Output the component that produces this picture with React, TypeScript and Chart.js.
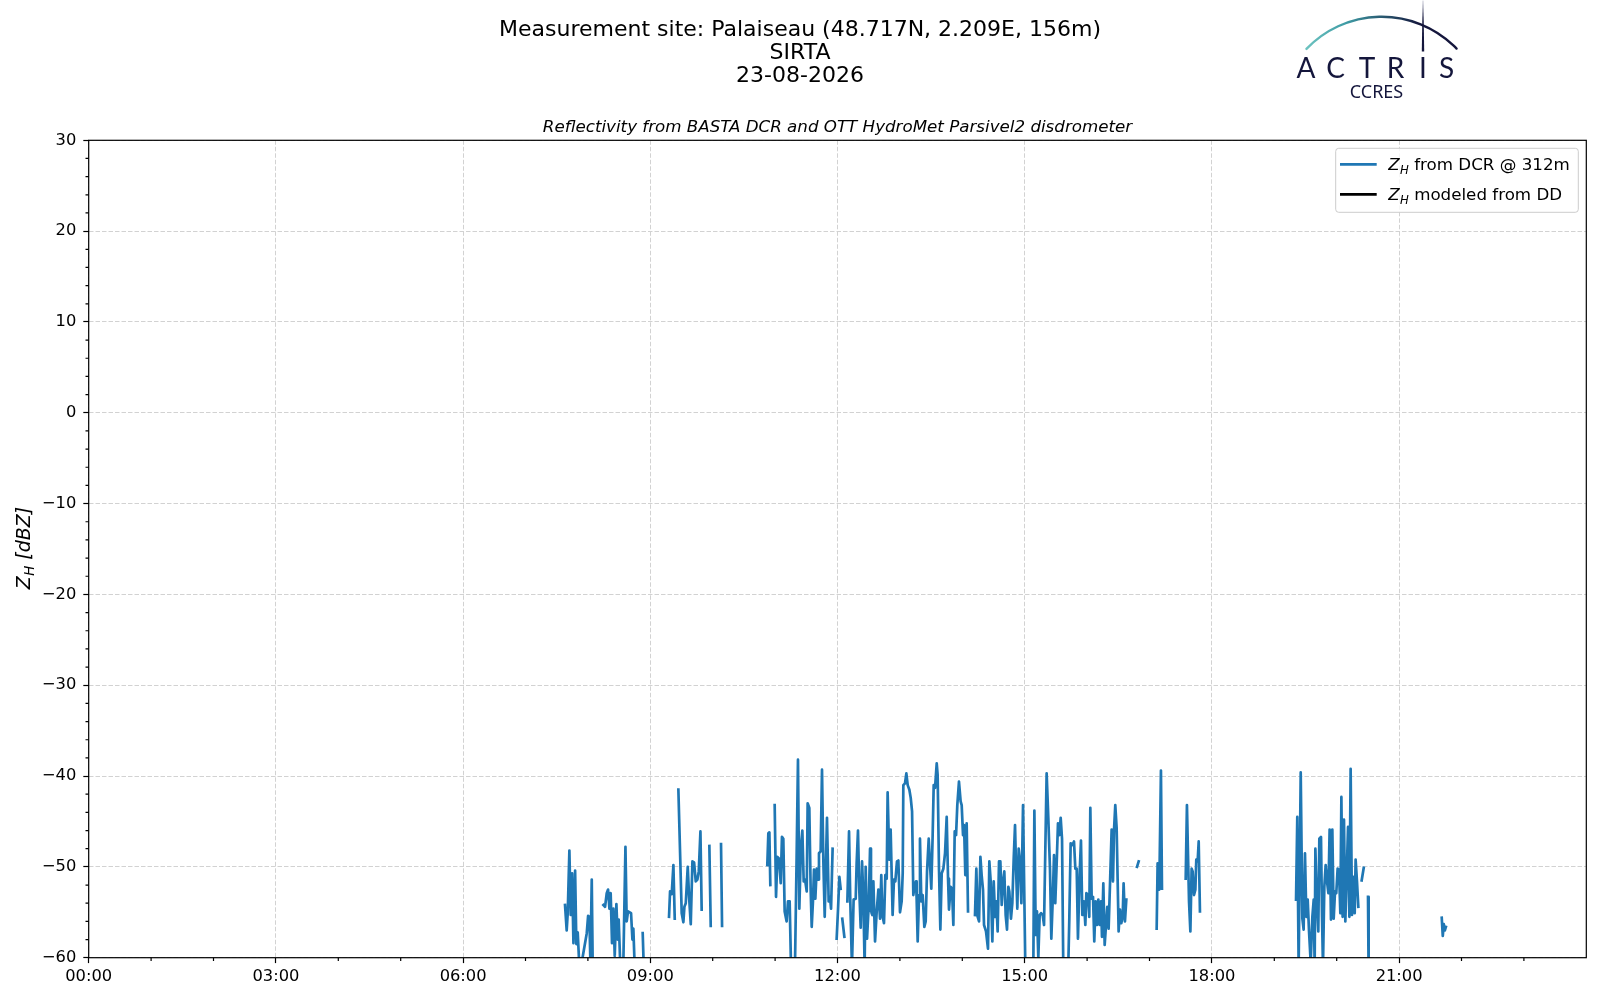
import React, { useEffect, useRef } from 'react';
import { Chart, registerables } from 'chart.js';

Chart.register(...registerables);

const FONT = '"DejaVu Sans", sans-serif';

const titleLines = ['Measurement site: Palaiseau (48.717N, 2.209E, 156m)', 'SIRTA', '23-08-2026'];
const subtitle = 'Reflectivity from BASTA DCR and OTT HydroMet Parsivel2 disdrometer';
const legendNames = ['from DCR @ 312m', 'modeled from DD'];
const seriesColors = ['#1f77b4', '#000000'];

// x axis: minutes after midnight
const xTickMinutes = [0, 180, 360, 540, 720, 900, 1080, 1260];
const yMin = -60;
const yMax = 30;

// DCR reflectivity (dBZ) at 312 m, null = no echo
const timeMin = [
  458.0, 459.6, 460.6, 462.2, 463.5, 464.8, 466.1, 467.7, 468.9, 470.2, 471.8, 474.1, 478.9, 480.2, 481.4, 482.4, 483.7, 484.6, 485,
  494.9, 496.5, 498.1, 499.4, 500.7, 501.9, 503.2, 504.5, 505.8, 507.4, 508.7, 509.6, 511.2, 514.1, 516.1, 517.3, 518.6, 521.5, 522.8, 523.7, 525.0, 526,
  532.7, 533.7, 534,
  558.0, 559.0, 560.6, 562.2, 563.5, 565,
  567.0, 570.2, 571.8, 572.8, 574.1, 576.0, 577.3, 578.9, 580.5, 582.1, 583.7, 585.3, 586.6, 588.2, 589.4, 590,
  596.8, 598.1, 599,
  608.0, 609.0, 610,
  652.5, 653.5, 654.5, 655.4, 657,
  659.6, 660.9, 662.2, 663.8, 665.4, 666.6, 667.9, 669.2, 671.1, 672.4, 674.0, 675.3, 679.1, 680.7, 682.0, 683.3, 684.9, 686.2, 687.5, 688.8,
  690.4, 691.3, 692.9, 694.2, 695.2, 696.4, 697.4, 698.7, 700.0, 701.3, 702.2, 703.8, 705.1, 706.4, 707.7, 709.9, 711.5, 712.8, 713.8, 715.3, 717,
  719.2, 720.5, 721.8, 723.0, 723.8,
  724.6, 726.6, 728,
  729.5, 731.1, 732.3, 733.9, 735.5, 737.5, 738.4, 739.7, 741.0, 742.3, 743.6, 744.8, 746.1, 747.1, 748.4, 750.0, 751.3, 752.2, 753.5, 754.5,
  756.1, 757.7, 759.3, 760.9, 762.1, 763.1, 764.7, 766.0, 767.3, 768.2, 769.8, 771.1, 773.0, 774.3, 775.6, 777.2, 778.5, 780.1,
  781.7, 782.7, 783.3, 784.9, 786.2, 787.5, 789.1, 790.4, 791.7, 792.9, 794.2, 795.5, 796.1, 797.1, 798.4, 799.3, 800.6, 801.9, 803.5, 804.8,
  806.1, 807.7, 809.0, 810.2, 811.5, 812.5, 813.8, 815.4, 816.3, 817.6, 818.9, 820.2, 821.8, 823.4, 825.0, 826.3, 827.2, 828.8, 830.1, 831.4,
  832.7, 834.0, 835.2, 836.8, 838.4, 839.4, 840.7, 841.7, 842.9, 844.2, 845.5, 848,
  852.2, 853.5, 854.8, 856.1, 857.4, 858.6, 859.9, 860.9, 862.8, 864.7, 866.0, 867.3, 868.9, 870.2, 871.5, 872.7, 874.0, 875.3, 876.6, 877.9,
  879.2, 880.4, 881.7, 883.0, 884.3, 885.2, 886.8, 888.1, 889.4, 890.7, 891.7, 892.9, 894.2, 895.5, 896.8, 898.4, 899.3, 900.6, 908.3, 909.3,
  910.6, 911.8, 913.1, 914.4, 915.7, 917.3, 918.6, 919.9, 921.1, 922.7, 924.3, 925.6, 926.9, 928.2, 929.4, 930.7, 932.0, 933.3, 934.6, 935.9,
  937.1, 941.9, 942.9, 944.2, 945.8, 947.4, 948.7, 950.0, 951.2, 952.8, 954.1, 955.4, 957.0, 958.3, 959.3, 960.9, 962.1, 963.1, 964.4, 965.7,
  966.9, 968.2, 969.5, 970.8, 972.1, 973.4, 974.3, 975.6, 976.9, 978.2, 979.4, 980.7, 982.0, 983.6, 984.9, 985.9, 987.1, 988.4, 989.4, 990.3,
  991.6, 992.9, 994.2, 995.1, 996.4, 997.7, 1000,
  1008.0, 1009.6, 1015,
  1026.9, 1027.8, 1029.4, 1031.0, 1032.0, 1040,
  1054.8, 1056.0, 1058.0, 1059.3, 1060.5, 1061.5, 1062.8, 1064.1, 1065.0, 1066.3, 1067.3, 1068.5, 1100,
  1160.9, 1162.1, 1163.4, 1165.4, 1167.0, 1168.2, 1169.5, 1170.8, 1172.1, 1173.4, 1175.0, 1176.6, 1177.9, 1178.8, 1179.5, 1180.7, 1182.3, 1183.3, 1184.9, 1185.9,
  1186.8, 1188.1, 1189.4, 1190.7, 1192.0, 1193.2, 1194.5, 1195.8, 1197.1, 1198.4, 1199.6, 1200.9, 1202.2, 1203.5, 1204.5, 1205.7, 1207.0, 1208.3, 1209.6, 1210.9,
  1212.2, 1213.4, 1214.7, 1216.0, 1217.3, 1218.2, 1219.5, 1220.8, 1222,
  1224.0, 1226.0, 1228,
  1230.1, 1230.7, 1260,
  1301, 1302, 1303, 1304, 1305,
];

const zhDcr = [
  -54.2, -57.0, -55.1, -48.2, -55.3, -50.7, -58.4, -50.4, -58.5, -57.2, -61, -60.5, -57.3, -55.4, -55.5, -60.5, -51.4, -60.5, null,
  -54.2, -54.4, -52.9, -52.5, -54.6, -52.9, -58.4, -54.6, -59.8, -54.1, -58.0, -55.8, -61, -60.5, -47.8, -56.0, -54.9, -55.1, -58.0, -56.8, -61, null,
  -57.3, -61, null,
  -55.5, -52.7, -53.0, -49.8, -55.7, null,
  -41.5, -55.1, -56.1, -54.4, -54.0, -50.0, -53.3, -56.3, -49.4, -49.5, -51.6, -51.4, -50.5, -46.1, -54.7, null,
  -47.7, -56.5, null,
  -47.5, -56.5, null,
  -49.8, -46.3, -46.2, -52.0, null,
  -43.2, -53.3, -48.9, -49.1, -51.8, -46.7, -46.9, -54.9, -56.0, -53.8, -53.8, -61, -61, -48.9, -38.2, -54.6, -47.6, -46.0, -51.6, -51.4,
  -52.7, -43.0, -43.5, -52.5, -56.6, -53.8, -50.3, -53.5, -50.2, -51.4, -48.5, -48.3, -39.3, -49.4, -55.5, -44.6, -53.8, -53.3, -54.6, -48.0, null,
  -57.9, -54.7, -51.1, -52.4, null,
  -55.7, -57.7, null,
  -53.8, -46.1, -53.8, -61, -53.6, -53.5, -49.6, -46.0, -52.7, -56.7, -49.4, -53.1, -61, -50.0, -57.9, -54.2, -48.0, -54.9, -55.3, -51.6,
  -58.2, -54.9, -52.5, -55.7, -50.9, -55.3, -56.2, -50.9, -51.3, -41.8, -49.2, -45.9, -55.3, -51.4, -51.6, -49.4, -49.3, -55.0,
  -53.8, -50.7, -41.0, -40.8, -39.7, -41.0, -41.5, -42.4, -43.9, -53.1, -52.0, -51.6, -53.5, -58.2, -53.1, -46.9, -53.8, -53.1, -56.6, -56.0,
  -50.5, -46.9, -49.8, -52.4, -46.5, -41.0, -41.3, -38.6, -39.9, -50.3, -56.9, -50.7, -50.2, -48.5, -44.5, -51.3, -54.7, -52.2, -52.4, -56.4,
  -46.1, -46.5, -43.2, -40.6, -42.8, -43.2, -46.5, -45.4, -50.9, -45.2, -54.9, null,
  -55.3, -50.2, -55.5, -56.0, -48.9, -50.9, -52.5, -56.4, -57.1, -59.0, -49.4, -51.6, -58.2, -51.6, -55.5, -53.8, -57.1, -49.4, -49.4, -54.2,
  -51.6, -50.5, -55.3, -56.9, -52.2, -52.7, -55.7, -54.0, -49.2, -45.4, -50.2, -54.6, -48.0, -49.4, -54.0, -43.2, -43.2, -61, -61, -43.8,
  -57.5, -54.9, -60.0, -55.3, -55.1, -55.3, -56.4, -47.6, -39.7, -44.6, -50.2, -57.9, -53.8, -48.7, -54.0, -49.8, -45.2, -46.5, -44.6, -46.9,
  -61, -61, -55.7, -47.4, -47.6, -47.2, -50.2, -50.2, -57.9, -50.9, -47.1, -55.3, -53.8, -56.4, -52.9, -53.1, -55.5, -43.5, -53.5, -53.3,
  -58.2, -53.8, -56.4, -53.6, -56.4, -53.8, -57.7, -51.8, -58.6, -56.4, -54.4, -56.8, -52.0, -45.9, -51.6, -45.9, -43.2, -45.7, -51.6, -57.1,
  -54.7, -56.2, -55.5, -51.8, -56.0, -53.6, null,
  -50.0, -49.4, null,
  -56.8, -49.6, -52.5, -39.4, -52.4, null,
  -51.3, -43.2, -53.8, -57.1, -50.2, -50.5, -53.1, -52.5, -49.2, -49.4, -47.2, -54.9, null,
  -53.6, -44.5, -61, -39.6, -55.7, -56.9, -48.5, -55.5, -53.6, -57.1, -60.5, -55.5, -53.6, -61, -48.0, -53.1, -57.1, -46.9, -46.7, -55.5,
  -61, -52.2, -49.8, -51.6, -52.9, -45.9, -55.8, -45.9, -55.7, -52.7, -52.9, -50.2, -50.3, -55.1, -42.3, -55.5, -44.8, -56.0, -50.9, -45.6,
  -55.5, -39.2, -55.3, -51.1, -55.1, -49.2, -51.6, -54.4, null,
  -51.5, -50.1, null,
  -53.3, -62, null,
  -55.6, -57.6, -56.3, -57.0, -56.6,
];

// Z_H modeled from the disdrometer: no values on this day
const zhModeledDd: (number | null)[] = [];

const TICK_SIZE = 16.3;
const TEXT_SIZE = 16.7;

const fmtTime = (m: number) => {
  const h = Math.floor(m / 60);
  const mm = Math.round(m % 60);
  return `${String(h).padStart(2, '0')}:${String(mm).padStart(2, '0')}`;
};

// italic Z with subscript H, returns advance
function drawZh(ctx: CanvasRenderingContext2D, x: number, y: number, size: number) {
  ctx.textAlign = 'left';
  ctx.font = `italic ${size}px ${FONT}`;
  ctx.fillText('Z', x, y);
  let w = ctx.measureText('Z').width + size * 0.02;
  const sub = size * 0.7;
  ctx.font = `italic ${sub}px ${FONT}`;
  ctx.fillText('H', x + w, y + size * 0.22);
  w += ctx.measureText('H').width;
  return w;
}

function zhWidth(ctx: CanvasRenderingContext2D, size: number) {
  ctx.font = `italic ${size}px ${FONT}`;
  const zw = ctx.measureText('Z').width + size * 0.02;
  ctx.font = `italic ${size * 0.7}px ${FONT}`;
  return zw + ctx.measureText('H').width;
}

const decorPlugin = {
  id: 'decor',
  beforeDraw(chart: Chart) {
    const { ctx, width, height } = chart;
    ctx.save();
    ctx.fillStyle = '#ffffff';
    ctx.fillRect(0, 0, width, height);
    ctx.restore();
  },
  afterDatasetsDraw(chart: Chart) {
    const { ctx, chartArea: a } = chart;
    const xs = chart.scales.x;
    const ys = chart.scales.y;
    ctx.save();
    ctx.strokeStyle = '#000';
    ctx.lineWidth = 1.2;
    // minor ticks
    ctx.beginPath();
    for (let v = yMin; v <= yMax; v += 2) {
      if (v % 10 === 0) continue;
      const py = ys.getPixelForValue(v);
      ctx.moveTo(a.left - 3.2, py);
      ctx.lineTo(a.left, py);
    }
    for (let m = 0; m <= 1440; m += 60) {
      if (m % 180 === 0) continue;
      const px = xs.getPixelForValue(m);
      ctx.moveTo(px, a.bottom);
      ctx.lineTo(px, a.bottom + 3.2);
    }
    ctx.stroke();
    ctx.strokeRect(a.left, a.top, a.right - a.left, a.bottom - a.top);
    ctx.restore();
  },
  afterDraw(chart: Chart) {
    const { ctx, chartArea: a } = chart;
    ctx.save();
    ctx.fillStyle = '#000';

    // figure title
    ctx.textAlign = 'center';
    ctx.font = `22px ${FONT}`;
    const baselines = [36.4, 59.2, 82.2];
    titleLines.forEach((t, i) => ctx.fillText(t, 800, baselines[i]));

    // axes title
    ctx.font = `italic ${TEXT_SIZE}px ${FONT}`;
    ctx.fillText(subtitle, (a.left + a.right) / 2, 132);

    // y label
    ctx.save();
    ctx.translate(23, 548);
    ctx.rotate(-Math.PI / 2);
    const ySize = 19;
    const rest = ' [dBZ]';
    ctx.font = `italic ${ySize}px ${FONT}`;
    const restW = ctx.measureText(rest).width;
    const total = zhWidth(ctx, ySize) + restW;
    const start = -total / 2;
    const adv = drawZh(ctx, start, 7, ySize);
    ctx.font = `italic ${ySize}px ${FONT}`;
    ctx.fillText(rest, start + adv, 7);
    ctx.restore();

    // legend
    const lx = 1335.7;
    const ly = 148.3;
    const rows = [164.3, 194.3];
    const tx = 1388.3;
    let maxW = 0;
    legendNames.forEach((n) => {
      const zw = zhWidth(ctx, TEXT_SIZE);
      ctx.font = `${TEXT_SIZE}px ${FONT}`;
      maxW = Math.max(maxW, zw + ctx.measureText(' ' + n).width);
    });
    const boxW = tx + maxW + 8.5 - lx;
    ctx.beginPath();
    ctx.roundRect(lx, ly, boxW, 64, 3);
    ctx.fillStyle = 'rgba(255,255,255,0.8)';
    ctx.fill();
    ctx.strokeStyle = '#cccccc';
    ctx.lineWidth = 1;
    ctx.stroke();
    legendNames.forEach((n, i) => {
      const ry = rows[i];
      ctx.strokeStyle = seriesColors[i];
      ctx.lineWidth = 2.7;
      ctx.beginPath();
      ctx.moveTo(1340, ry);
      ctx.lineTo(1376.7, ry);
      ctx.stroke();
      ctx.fillStyle = '#000';
      const w = drawZh(ctx, tx, ry + 6, TEXT_SIZE);
      ctx.font = `${TEXT_SIZE}px ${FONT}`;
      ctx.fillText(' ' + n, tx + w, ry + 6);
    });

    // ACTRIS / CCRES logo
    const navy = '#14163c';
    const grad = ctx.createLinearGradient(1306, 0, 1420, 0);
    grad.addColorStop(0, '#6cc3c0');
    grad.addColorStop(0.35, '#3f9ca5');
    grad.addColorStop(1, navy);
    ctx.strokeStyle = grad;
    ctx.lineWidth = 2.4;
    ctx.lineCap = 'round';
    ctx.beginPath();
    ctx.arc(1381.7, 120.6, 103.9, (-136.4 * Math.PI) / 180, (-43.9 * Math.PI) / 180);
    ctx.stroke();
    const vgrad = ctx.createLinearGradient(0, 0, 0, 52);
    vgrad.addColorStop(0, '#c8cad8');
    vgrad.addColorStop(0.4, navy);
    vgrad.addColorStop(1, navy);
    ctx.fillStyle = vgrad;
    ctx.beginPath();
    ctx.moveTo(1422.6, 0.5);
    ctx.lineTo(1423.4, 0.5);
    ctx.lineTo(1424.2, 51.5);
    ctx.lineTo(1421.8, 51.5);
    ctx.closePath();
    ctx.fill();
    ctx.fillStyle = navy;
    ctx.textAlign = 'center';
    ctx.font = `28px Lato, ${FONT}`;
    const letters = ['A', 'C', 'T', 'R', 'I', 'S'];
    const centers = [1306, 1335.5, 1367, 1395.5, 1422.8, 1446.5];
    letters.forEach((l, i) => ctx.fillText(l, centers[i], 78));
    ctx.font = `18px "Noto Sans", ${FONT}`;
    ctx.fillText('CCRES', 1376.5, 98.3);
    ctx.restore();
  },
};

export default function App() {
  const canvasRef = useRef<HTMLCanvasElement | null>(null);
  const chartRef = useRef<Chart | null>(null);

  useEffect(() => {
    if (!canvasRef.current) return;
    if (chartRef.current) {
      chartRef.current.destroy();
      chartRef.current = null;
    }

    const dcrPoints = timeMin.map((t, i) => ({ x: t, y: zhDcr[i] }));
    const ddPoints = zhModeledDd.map((v, i) => ({ x: timeMin[i], y: v }));

    chartRef.current = new Chart(canvasRef.current, {
      type: 'line',
      data: {
        datasets: [
          {
            label: 'Z_H ' + legendNames[0],
            data: dcrPoints,
            borderColor: seriesColors[0],
            borderWidth: 2.7,
            pointRadius: 0,
            spanGaps: false,
            tension: 0,
            clip: 0,
            borderJoinStyle: 'round',
            borderCapStyle: 'square',
          },
          {
            label: 'Z_H ' + legendNames[1],
            data: ddPoints,
            borderColor: seriesColors[1],
            borderWidth: 2.7,
            pointRadius: 0,
            clip: 0,
          },
        ],
      },
      options: {
        animation: false,
        responsive: false,
        devicePixelRatio: 1,
        layout: { padding: { top: 140.3, right: 13.7, left: 0, bottom: 0 } },
        plugins: {
          legend: { display: false },
          title: { display: false },
          tooltip: { enabled: false },
        },
        scales: {
          x: {
            type: 'linear',
            min: 0,
            max: 1440,
            afterBuildTicks: (s: any) => {
              s.ticks = xTickMinutes.map((v) => ({ value: v }));
            },
            afterFit: (s: any) => {
              s.height = 42.3;
            },
            ticks: {
              autoSkip: false,
              maxRotation: 0,
              padding: 4,
              color: '#000',
              font: { family: FONT, size: TICK_SIZE },
              callback: (v: any) => fmtTime(Number(v)),
            },
            grid: {
              color: '#d2d2d2',
              lineWidth: 1,
              tickColor: '#000',
              tickWidth: 1.2,
              tickLength: 5.4,
            },
            border: { display: false, dash: [4.5, 2] },
          },
          y: {
            min: yMin,
            max: yMax,
            afterFit: (s: any) => {
              s.width = 88.7;
            },
            ticks: {
              stepSize: 10,
              padding: 7,
              color: '#000',
              font: { family: FONT, size: TICK_SIZE },
              callback: (v: any) => String(v).replace('-', '\u2212'),
            },
            grid: {
              color: '#d2d2d2',
              lineWidth: 1,
              tickColor: '#000',
              tickWidth: 1.2,
              tickLength: 5.4,
            },
            border: { display: false, dash: [4.5, 2] },
          },
        },
      },
      plugins: [decorPlugin],
    });

    return () => {
      if (chartRef.current) {
        chartRef.current.destroy();
        chartRef.current = null;
      }
    };
  }, []);

  return (
    <div style={{ position: 'fixed', left: 0, top: 0, width: 1600, height: 1000, background: '#fff' }}>
      <canvas ref={canvasRef} width={1600} height={1000} />
    </div>
  );
}
